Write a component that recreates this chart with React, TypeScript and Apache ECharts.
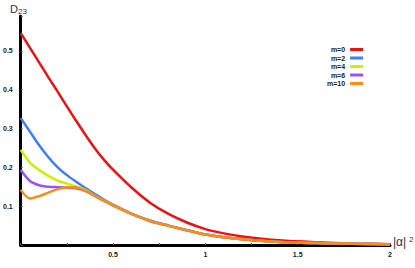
import React, { useEffect, useRef } from "react";
import * as echarts from "echarts";

const xs = [0, 0.05, 0.1, 0.15, 0.2, 0.25, 0.3, 0.35, 0.4, 0.45, 0.5, 0.6, 0.7, 0.8, 0.9, 1.0, 1.1, 1.2, 1.4, 1.6, 1.8, 2.0];

const seriesNames = ["m=0", "m=2", "m=4", "m=6", "m=10"];
const seriesColors = ["#f01010", "#3d7dff", "#ccf000", "#9b50ff", "#ff8c10"];

const m0 = [0.546, 0.508, 0.47, 0.432, 0.395, 0.357, 0.32, 0.284, 0.25, 0.22, 0.194, 0.148, 0.109, 0.08, 0.058, 0.041, 0.03, 0.022, 0.012, 0.007, 0.004, 0.002];
const m2 = [0.327, 0.292, 0.257, 0.226, 0.2, 0.18, 0.163, 0.147, 0.132, 0.117, 0.104, 0.081, 0.063, 0.05, 0.038, 0.027, 0.02, 0.015, 0.008, 0.005, 0.003, 0.002];
const m4 = [0.245, 0.212, 0.193, 0.178, 0.166, 0.158, 0.151, 0.142, 0.128, 0.115, 0.103, 0.08, 0.062, 0.05, 0.038, 0.027, 0.02, 0.015, 0.008, 0.005, 0.003, 0.002];
const m6 = [0.193, 0.165, 0.154, 0.15, 0.149, 0.148, 0.146, 0.139, 0.127, 0.114, 0.102, 0.08, 0.062, 0.05, 0.038, 0.027, 0.02, 0.015, 0.008, 0.005, 0.003, 0.002];
const m10 = [0.142, 0.12, 0.126, 0.135, 0.144, 0.149, 0.148, 0.14, 0.127, 0.114, 0.102, 0.08, 0.062, 0.05, 0.038, 0.027, 0.02, 0.015, 0.008, 0.005, 0.003, 0.002];

const allValues = [m0, m2, m4, m6, m10];

export default function App() {
  const ref = useRef<HTMLDivElement>(null);
  useEffect(() => {
    if (!ref.current) return;
    const chart = echarts.init(ref.current, undefined, { renderer: "svg" });
    const font = "'Liberation Sans', Arial, sans-serif";
    chart.setOption({
      animation: false,
      backgroundColor: "#ffffff",
      grid: { left: 17, right: 25, top: 16, bottom: 23, containLabel: false },
      legend: {
        orient: "vertical",
        left: 322,
        top: 41,
        align: "right",
        icon: "rect",
        itemWidth: 13,
        itemHeight: 3,
        itemGap: 1.5,
        data: seriesNames,
        textStyle: { fontSize: 7, fontWeight: "bold", color: "#222", fontFamily: font, lineHeight: 7 },
      },
      xAxis: {
        type: "value",
        min: 0,
        max: 2,
        interval: 0.5,
        axisLine: { show: true, lineStyle: { color: "#000", width: 3 } },
        axisTick: { show: true, inside: true, length: 2, lineStyle: { color: "#555", width: 1 } },
        minorTick: { show: true, splitNumber: 2, length: 2, lineStyle: { color: "#555" } },
        splitLine: { show: false },
        axisLabel: {
          fontSize: 7,
          fontWeight: "bold",
          color: "#222",
          fontFamily: font,
          margin: 6,
          formatter: (v: number) => (v === 0 ? "" : String(v)),
        },
      },
      yAxis: {
        type: "value",
        min: 0,
        max: 0.59,
        interval: 0.1,
        axisLine: { show: true, lineStyle: { color: "#000", width: 3 } },
        axisTick: { show: true, inside: true, length: 2, lineStyle: { color: "#555", width: 1 } },
        splitLine: { show: false },
        axisLabel: {
          fontSize: 7,
          fontWeight: "bold",
          color: "#222",
          fontFamily: font,
          margin: 8,
          formatter: (v: number) => (v === 0 || v > 0.55 ? "" : v.toFixed(1)),
        },
      },
      graphic: [
        { type: "text", left: 10, top: 3, style: { text: "D", fontSize: 11, fill: "#333", fontFamily: font } },
        { type: "text", left: 18, top: 7, style: { text: "23", fontSize: 8, fill: "#333", fontFamily: font } },
        { type: "text", left: 393, top: 236, style: { text: "|α|", fontSize: 12, fill: "#333", fontFamily: font } },
        { type: "text", left: 409, top: 235, style: { text: "2", fontSize: 8, fill: "#333", fontFamily: font } },
      ],
      series: allValues.map((vals, i) => ({
        name: seriesNames[i],
        type: "line",
        smooth: 0.3,
        showSymbol: false,
        color: seriesColors[i],
        lineStyle: { width: 2.5, color: seriesColors[i] },
        data: xs.map((x, j) => [x, vals[j]]),
      })),
    });
    return () => chart.dispose();
  }, []);
  return <div ref={ref} style={{ width: 415, height: 268, position: "absolute", left: 0, top: 0 }} />;
}
